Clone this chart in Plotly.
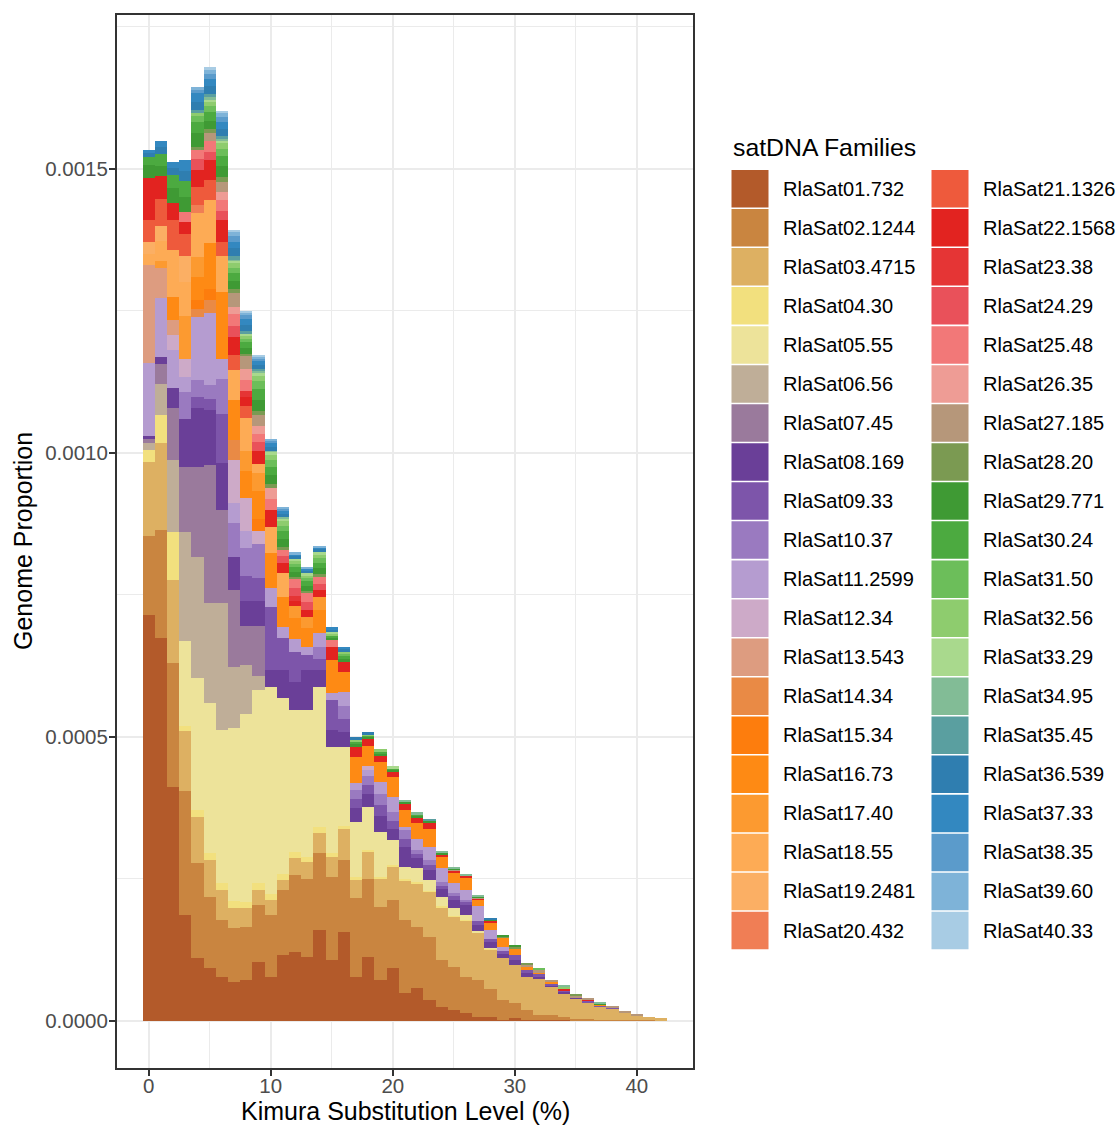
import plotly.graph_objects as go

# ---------------- data (values in units of 1e-5 genome proportion) ----------------
kimura = [0, 1, 2, 3, 4, 5, 6, 7, 8, 9, 10, 11, 12, 13, 14, 15, 16, 17, 18, 19, 20,
          21, 22, 23, 24, 25, 26, 27, 28, 29, 30, 31, 32, 33, 34, 35, 36, 37, 38, 39, 40, 41, 42]
UNIT = 1e-5

families = ["RlaSat01.732", "RlaSat02.1244", "RlaSat03.4715", "RlaSat04.30", "RlaSat05.55",
            "RlaSat06.56", "RlaSat07.45", "RlaSat08.169", "RlaSat09.33", "RlaSat10.37",
            "RlaSat11.2599", "RlaSat12.34", "RlaSat13.543", "RlaSat14.34", "RlaSat15.34",
            "RlaSat16.73", "RlaSat17.40", "RlaSat18.55", "RlaSat19.2481", "RlaSat20.432",
            "RlaSat21.1326", "RlaSat22.1568", "RlaSat23.38", "RlaSat24.29", "RlaSat25.48",
            "RlaSat26.35", "RlaSat27.185", "RlaSat28.20", "RlaSat29.771", "RlaSat30.24",
            "RlaSat31.50", "RlaSat32.56", "RlaSat33.29", "RlaSat34.95", "RlaSat35.45",
            "RlaSat36.539", "RlaSat37.33", "RlaSat38.35", "RlaSat39.60", "RlaSat40.33"]

family_colors = ["#B35A2A", "#C98540", "#DDB062", "#F2E07E", "#EDE39A",
                 "#BFAE98", "#9A7A9C", "#6A3F98", "#7D55AA", "#9A7AC0",
                 "#B59CD0", "#CDAAC8", "#DD9C80", "#E98A45", "#FD7D0D",
                 "#FE8A14", "#FC9A30", "#FDAB55", "#FBAF64", "#F07E55",
                 "#EE5A3C", "#E22320", "#E53535", "#E9515A", "#F27878",
                 "#EE9C95", "#B6977A", "#7B9A52", "#3F9A34", "#4CAA40",
                 "#6CBE5A", "#8ECC6E", "#A9D98D", "#82BC96", "#5A9FA0",
                 "#2F7EB0", "#3388C0", "#5B9BCB", "#7EB3D8", "#A8CCE4"]

rlasat01 = [71.5, 67.4, 41.2, 18.7, 11.1, 9.3, 7.7, 6.9, 7.2, 10.4,
            7.7, 11.6, 12.1, 11.3, 16.0, 10.7, 15.7, 7.7, 11.3, 7.2,
            9.3, 4.9, 5.8, 3.7, 2.5, 1.9, 1.4, 0.7, 0.6, 0.2,
            0.5, 0.2, 0.2, 0.1, 0.1, 0.05, 0, 0, 0, 0,
            0, 0, 0]
rlasat02 = [13.9, 19.0, 21.8, 21.7, 16.7, 12.5, 10.0, 9.5, 9.3, 10.0,
            10.9, 11.4, 13.6, 13.6, 13.6, 14.6, 12.7, 13.9, 13.6, 12.9,
            12.0, 12.9, 10.7, 11.1, 8.3, 7.6, 6.3, 6.5, 5.0, 3.5,
            2.6, 1.8, 0.9, 0.9, 0.5, 0.3, 0.3, 0.2, 0.2, 0.1,
            0.1, 0.1, 0]
rlasat03 = [13.0, 15.3, 14.6, 10.6, 8.1, 6.5, 5.3, 3.5, 3.3, 2.6,
            2.6, 1.8, 3.0, 3.0, 3.5, 3.5, 5.3, 3.2, 4.8, 4.8,
            5.8, 7.0, 7.7, 7.9, 9.2, 8.8, 10.0, 8.3, 7.0, 7.4,
            6.7, 5.8, 6.2, 4.9, 4.2, 3.6, 3.0, 2.3, 2.0, 1.3,
            0.9, 0.6, 0.5]
rlasat04 = [2.1, 4.9, 8.5, 1.0, 1.2, 1.2, 1.2, 1.2, 1.2, 1.2,
            1.2, 1.0, 1.0, 1.0, 1.0, 0.8, 0.6, 0.5, 0.4, 0.4,
            0.3, 0.2, 0.2, 0.2, 0.2, 0.2, 0.1, 0.1, 0.1, 0,
            0, 0, 0, 0, 0, 0, 0, 0, 0, 0,
            0, 0, 0]
rlasat05 = [0, 0, 0, 14.8, 23.3, 26.4, 27.0, 30.5, 33.1, 34.0,
            36.3, 31.0, 25.1, 25.9, 24.7, 18.6, 14.0, 9.7, 7.5, 7.9,
            4.5, 2.1, 2.6, 1.9, 1.6, 1.4, 0.8, 0.2, 0.1, 0,
            0, 0, 0, 0, 0, 0, 0, 0, 0, 0,
            0, 0, 0]
rlasat06 = [1.2, 5.6, 12.7, 19.2, 21.3, 17.6, 22.4, 10.7, 8.5, 2.6,
            0, 0, 0, 0, 0, 0, 0, 0, 0, 0,
            0, 0, 0, 0, 0, 0, 0, 0, 0, 0,
            0, 0, 0, 0, 0, 0, 0, 0, 0, 0,
            0, 0, 0]
rlasat07 = [0.7, 3.5, 9.2, 11.6, 15.8, 24.3, 16.4, 13.6, 7.0, 8.8,
            0, 0, 0, 0, 0, 0, 0, 0, 0, 0,
            0, 0, 0, 0, 0, 0, 0, 0, 0, 0,
            0, 0, 0, 0, 0, 0, 0, 0, 0, 0,
            0, 0, 0]
rlasat08 = [0.5, 1.2, 3.5, 8.3, 10.4, 9.7, 8.3, 5.8, 4.4, 4.4,
            3.0, 4.9, 4.8, 7.0, 3.0, 3.0, 2.5, 2.5, 2.3, 2.8,
            1.8, 3.5, 1.6, 1.8, 1.4, 1.4, 1.8, 1.0, 1.0, 0.7,
            1.0, 0.6, 0.5, 0.4, 0.3, 0.2, 0, 0, 0, 0,
            0, 0, 0]
rlasat09 = [0, 0, 0, 0, 2.0, 2.0, 8.5, 0, 4.4, 4.0,
            11.1, 5.8, 5.3, 2.6, 2.0, 5.3, 2.3, 1.6, 1.6, 2.0,
            1.5, 1.5, 0.7, 0.9, 0.6, 0.6, 0.5, 0.8, 0.6, 0.5,
            0.8, 0.6, 0.4, 0.3, 0.2, 0, 0.3, 0.2, 0.2, 0,
            0, 0, 0]
rlasat10 = [0, 0, 0, 4.8, 2.9, 2.4, 6.2, 6.0, 4.9, 6.0,
            0, 0, 0, 0, 2.0, 0, 2.3, 1.6, 1.6, 1.9,
            1.5, 1.5, 0.7, 0.9, 0.6, 0.6, 0.4, 0, 0, 0,
            0, 0, 0, 0, 0, 0, 0, 0, 0, 0,
            0, 0, 0]
rlasat11 = [12.9, 10.4, 6.7, 2.6, 11.1, 12.7, 3.5, 3.5, 3.0, 0,
            3.5, 1.8, 2.3, 1.4, 2.5, 1.2, 2.5, 1.2, 1.0, 2.1,
            2.8, 0.5, 2.1, 2.3, 2.6, 1.8, 1.8, 2.6, 1.6, 0.7,
            0, 0, 0, 0, 0, 0, 0, 0, 0, 0,
            0, 0, 0]
rlasat12 = [0, 0, 2.6, 3.2, 0, 0, 0, 7.6, 5.8, 2.3,
            0, 0, 0, 0, 0, 0, 0, 0, 0.8, 0,
            0, 0, 0, 0, 0, 0, 0, 0, 0, 0,
            0, 0, 0, 0, 0, 0, 0, 0, 0, 0,
            0, 0, 0]
rlasat13 = [17.3, 5.3, 2.6, 0, 0, 0, 0, 0, 0, 0,
            0, 0, 0, 0, 0, 0, 0, 0, 0, 0,
            0, 0, 0, 0, 0, 0, 0, 0, 0, 0,
            0, 0, 0, 0, 0, 0, 0, 0, 0, 0,
            0, 0, 0]
rlasat14 = [0, 0, 0, 0, 1.5, 2.3, 0, 3.5, 0, 0,
            0, 0, 0, 0, 0, 0, 0, 0, 0, 0,
            0, 0, 0, 0, 0, 0, 0, 0, 0, 0,
            0, 0, 0, 0, 0, 0, 0, 0, 0, 0,
            0, 0, 0]
rlasat15 = [0, 0, 0, 0, 1.5, 2.0, 0, 0, 0, 2.0,
            0, 0, 0, 0, 0, 0, 0, 0, 0, 0,
            0, 0, 0, 0, 0, 0, 0, 0, 0, 0,
            0, 0, 0, 0, 0, 0, 0, 0, 0, 0,
            0, 0, 0]
rlasat16 = [0, 0, 4.0, 0, 4.0, 8.0, 11.8, 7.0, 4.8, 5.0,
            6.0, 5.3, 3.8, 3.3, 4.0, 5.8, 3.5, 4.6, 3.5, 3.5,
            3.5, 3.0, 2.8, 3.0, 1.8, 1.8, 2.1, 1.1, 1.3, 1.6,
            1.2, 0.5, 0.4, 0.2, 0, 0, 0, 0.1, 0, 0,
            0, 0, 0]
rlasat17 = [0, 1.2, 0, 7.6, 3.6, 0, 0, 0, 3.5, 3.2,
            0, 0, 2.0, 2.0, 2.3, 0, 0, 0, 0, 0,
            0, 0, 0, 0, 0, 0, 0, 0, 0, 0,
            0, 0, 0, 0, 0, 0, 0, 0, 0, 0,
            0, 0, 0]
rlasat18 = [2.0, 3.5, 8.3, 6.0, 7.7, 7.6, 6.3, 5.3, 5.8, 1.6,
            4.6, 4.2, 0, 0, 0, 0, 0, 0, 0, 0,
            0, 0, 0, 0, 0, 0, 0, 0, 0, 0,
            0, 0, 0, 0, 0, 0, 0, 0, 0, 0,
            0, 0, 0]
rlasat19 = [2.0, 2.6, 0, 4.6, 0, 0, 0, 0, 0, 0,
            0, 0, 0, 0, 0, 0, 0, 0, 0, 0,
            0, 0, 0, 0, 0, 0, 0, 0, 0, 0,
            0, 0, 0, 0, 0, 0, 0, 0, 0, 0,
            0, 0, 0]
rlasat20 = [0, 0, 0, 0, 1.5, 0, 0, 0, 0, 0,
            0, 0, 0, 0, 0, 0, 0, 0, 0, 0,
            0, 0, 0, 0, 0, 0, 0, 0, 0, 0,
            0, 0, 0, 0, 0, 0, 0, 0, 0, 0,
            0, 0, 0]
rlasat21 = [3.9, 4.9, 5.3, 3.9, 3.1, 3.5, 2.5, 2.6, 2.1, 0,
            0, 0, 0, 0, 0, 0, 0, 0, 0, 0,
            0, 0, 0, 0, 0, 0, 0, 0, 0, 0,
            0, 0, 0, 0, 0, 0, 0, 0, 0, 0,
            0, 0, 0]
rlasat22 = [7.4, 3.9, 3.0, 2.1, 3.0, 3.5, 4.0, 3.2, 1.5, 2.3,
            3.0, 1.8, 1.0, 1.2, 1.2, 2.3, 1.8, 1.8, 1.2, 1.1,
            0.9, 1.2, 0.9, 1.2, 0.5, 0.3, 0.35, 0.2, 0.3, 0,
            0, 0, 0, 0, 0.3, 0, 0.2, 0, 0, 0,
            0, 0, 0]
rlasat23 = [0, 0, 0, 0, 0, 0, 0, 0, 1.1, 0,
            0, 0, 0.8, 0, 0, 0, 0, 0, 0, 0,
            0, 0, 0, 0, 0, 0, 0, 0, 0, 0,
            0, 0, 0, 0, 0, 0, 0, 0, 0, 0,
            0, 0, 0]
rlasat24 = [0, 0, 0, 0, 2.0, 1.5, 1.5, 2.0, 0, 1.5,
            0, 1.2, 1.5, 1.5, 1.2, 0, 0, 0, 0, 0,
            0, 0, 0, 0, 0, 0, 0, 0, 0, 0,
            0, 0, 0, 0, 0, 0, 0, 0, 0, 0,
            0, 0, 0]
rlasat25 = [0, 0, 0, 1.8, 1.5, 2.0, 2.0, 2.0, 2.0, 1.5,
            2.0, 1.1, 1.5, 1.5, 1.1, 1.2, 0, 0, 0, 0,
            0, 0, 0, 0, 0, 0, 0, 0, 0, 0,
            0, 0, 0, 0, 0, 0, 0, 0, 0, 0,
            0, 0, 0]
rlasat26 = [0, 0, 0, 0, 0, 0, 1.3, 1.3, 1.9, 1.4,
            2.0, 0, 0, 0, 0, 0, 0, 0, 0, 0,
            0, 0, 0, 0, 0, 0, 0, 0, 0, 0,
            0, 0, 0, 0, 0, 0, 0, 0, 0, 0,
            0, 0, 0]
rlasat27 = [0, 0, 0, 0, 0, 1.4, 1.8, 2.5, 2.3, 1.8,
            0, 0, 0, 0, 0, 0, 0, 0, 0, 0,
            0, 0, 0, 0, 0, 0.2, 0, 0.15, 0, 0,
            0, 0.4, 0.3, 0.4, 0, 0.3, 0.2, 0, 0.2, 0.2,
            0.1, 0, 0]
rlasat28 = [0, 0, 0, 0, 0.5, 0.6, 0.8, 0.6, 0.4, 0.8,
            0.6, 0.6, 0.4, 0.4, 0.5, 0, 0, 0, 0, 0,
            0, 0, 0, 0, 0, 0, 0, 0, 0, 0.2,
            0.3, 0.3, 0, 0, 0, 0.15, 0, 0, 0, 0,
            0, 0, 0]
rlasat29 = [2.3, 1.8, 2.6, 2.5, 2.5, 1.5, 2.0, 1.5, 1.0, 2.0,
            1.6, 1.4, 0.9, 0.9, 1.1, 0.5, 0.6, 0.5, 0.4, 0.4,
            0.3, 0.3, 0.3, 0.3, 0.3, 0.3, 0, 0.2, 0.3, 0.3,
            0.3, 0, 0, 0, 0, 0, 0, 0.2, 0, 0,
            0, 0, 0]
rlasat30 = [1.4, 2.1, 2.3, 2.8, 2.0, 1.5, 1.8, 1.3, 1.0, 1.8,
            1.5, 1.3, 0.8, 0.8, 1.0, 0.4, 0.5, 0.4, 0.3, 0.4,
            0.3, 0, 0.3, 0, 0, 0, 0, 0, 0, 0,
            0, 0, 0, 0, 0, 0, 0, 0, 0, 0,
            0, 0, 0]
rlasat31 = [0, 0, 0, 0, 1.0, 1.0, 1.2, 1.0, 0.6, 1.4,
            1.2, 1.0, 0.6, 0.6, 0.8, 0, 0.4, 0, 0, 0,
            0, 0, 0, 0, 0, 0, 0, 0, 0, 0,
            0, 0, 0.4, 0, 0, 0, 0, 0, 0, 0,
            0, 0, 0]
rlasat32 = [0, 0, 0, 0, 0.5, 0.8, 1.0, 0.8, 0.5, 1.0,
            0.9, 0.8, 0.5, 0.5, 0.6, 0.3, 0.3, 0.3, 0.2, 0.4,
            0, 0, 0, 0, 0, 0, 0, 0, 0, 0,
            0, 0, 0, 0, 0.4, 0, 0, 0, 0, 0,
            0, 0, 0]
rlasat33 = [0, 0, 0, 0, 0, 0.5, 0.5, 0.4, 0.4, 0.6,
            0.5, 0.5, 0.3, 0.3, 0.4, 0.2, 0, 0, 0, 0,
            0.3, 0, 0, 0, 0, 0, 0, 0, 0, 0,
            0, 0, 0, 0, 0, 0, 0, 0, 0, 0,
            0, 0, 0]
rlasat34 = [0, 0, 0, 0, 0, 0.3, 0.3, 0.2, 0, 0.3,
            0.2, 0.2, 0, 0, 0, 0, 0, 0, 0, 0,
            0, 0.2, 0.3, 0, 0.2, 0.2, 0.2, 0.15, 0, 0,
            0, 0, 0, 0, 0.3, 0, 0, 0.2, 0, 0,
            0, 0, 0]
rlasat35 = [0, 0, 0, 0, 0.5, 0.6, 0.5, 0.6, 0.4, 0.3,
            0, 0, 0, 0, 0, 0, 0, 0, 0, 0,
            0, 0, 0, 0.2, 0, 0, 0, 0, 0, 0,
            0, 0, 0, 0, 0, 0, 0, 0, 0, 0,
            0, 0, 0]
rlasat36 = [0.7, 1.2, 1.2, 1.8, 1.5, 1.4, 1.3, 1.4, 1.1, 0.7,
            0.7, 0.6, 0.5, 0.5, 0.5, 0.5, 0.5, 0.4, 0.3, 0,
            0, 0, 0, 0, 0, 0, 0, 0, 0.2, 0,
            0, 0, 0, 0, 0, 0, 0, 0, 0, 0,
            0, 0, 0]
rlasat37 = [0.5, 1.2, 1.1, 1.9, 1.5, 1.2, 1.2, 1.2, 1.0, 0.6,
            0.6, 0.5, 0.4, 0.3, 0.4, 0.4, 0.4, 0, 0, 0,
            0, 0, 0, 0, 0, 0, 0, 0, 0, 0,
            0, 0, 0, 0, 0, 0, 0, 0, 0, 0,
            0, 0, 0]
rlasat38 = [0, 0, 0, 0, 0.6, 1.0, 0.9, 1.0, 0.7, 0.5,
            0.4, 0.4, 0, 0, 0, 0, 0, 0, 0, 0,
            0, 0, 0, 0, 0, 0, 0, 0, 0, 0,
            0, 0, 0, 0, 0, 0, 0, 0, 0, 0,
            0, 0, 0]
rlasat39 = [0, 0, 0, 0, 0.5, 0.7, 0.6, 0.7, 0.5, 0.3,
            0.4, 0.3, 0.3, 0.3, 0.3, 0, 0, 0, 0, 0,
            0, 0, 0, 0, 0, 0, 0, 0, 0, 0,
            0, 0, 0, 0, 0, 0, 0, 0, 0, 0,
            0, 0, 0]
rlasat40 = [0, 0, 0, 0, 0, 0.4, 0.4, 0.4, 0.3, 0.2,
            0, 0, 0, 0, 0, 0, 0, 0, 0, 0,
            0, 0, 0, 0, 0, 0, 0, 0, 0, 0,
            0, 0, 0, 0, 0, 0, 0, 0, 0, 0,
            0, 0, 0]

series = [rlasat01, rlasat02, rlasat03, rlasat04, rlasat05, rlasat06, rlasat07, rlasat08,
          rlasat09, rlasat10, rlasat11, rlasat12, rlasat13, rlasat14, rlasat15, rlasat16,
          rlasat17, rlasat18, rlasat19, rlasat20, rlasat21, rlasat22, rlasat23, rlasat24,
          rlasat25, rlasat26, rlasat27, rlasat28, rlasat29, rlasat30, rlasat31, rlasat32,
          rlasat33, rlasat34, rlasat35, rlasat36, rlasat37, rlasat38, rlasat39, rlasat40]

y_tickvals = [0, 0.0005, 0.0010, 0.0015]
y_ticktext = ["0.0000", "0.0005", "0.0010", "0.0015"]
x_tickvals = [0, 10, 20, 30, 40]
x_ticktext = ["0", "10", "20", "30", "40"]

for s in series:
    assert len(s) == len(kimura)

# ---------------- figure ----------------
W, H = 1118, 1126
L, R, T, B = 117, 693, 15, 1068          # panel edges in page pixels
FONT = "Liberation Sans, Arial, sans-serif"

fig = go.Figure()
for name, col, vals in zip(families, family_colors, series):
    fig.add_trace(go.Bar(
        x=kimura, y=[v * UNIT for v in vals], name=name, width=1.0,
        marker=dict(color=col, line=dict(width=0)), showlegend=False,
    ))

fig.update_layout(
    width=W, height=H, barmode="stack", bargap=0,
    margin=dict(l=L, r=W - R, t=T, b=H - B, autoexpand=False),
    plot_bgcolor="white", paper_bgcolor="white",
    font=dict(family=FONT, color="#000000"),
)

axis_common = dict(
    showline=True, linecolor="#333333", linewidth=2, mirror=True,
    ticks="outside", ticklen=6, tickwidth=1.5, tickcolor="#333333",
    tickfont=dict(family=FONT, size=20.5, color="#4D4D4D"),
    showgrid=True, gridcolor="#EBEBEB", gridwidth=2, zeroline=False,
)
fig.update_xaxes(range=[-2.6, 44.6], tickmode="array", tickvals=x_tickvals, ticktext=x_ticktext,
                 ticklabelstandoff=-8,
                 minor=dict(tickmode="array", tickvals=[5, 15, 25, 35], showgrid=True,
                            gridcolor="#EBEBEB", gridwidth=1, ticks=""),
                 **axis_common)
fig.update_yaxes(range=[-0.0000830, 0.0017711], tickmode="array", tickvals=y_tickvals,
                 ticktext=y_ticktext, ticklabelstandoff=-3,
                 minor=dict(tickmode="array", tickvals=[0.00025, 0.00075, 0.00125, 0.00175],
                            showgrid=True, gridcolor="#EBEBEB", gridwidth=1, ticks=""),
                 **axis_common)


def px_x(px):
    return (px - L) / (R - L)


def px_y(py):
    return (B - py) / (B - T)


annotations = [
    dict(text="Kimura Substitution Level (%)", x=px_x(405), y=px_y(1111), xref="paper",
         yref="paper", xanchor="center", yanchor="middle", showarrow=False,
         font=dict(family=FONT, size=25, color="#000000")),
    dict(text="Genome Proportion", x=px_x(23), y=px_y(541), xref="paper", yref="paper",
         xanchor="center", yanchor="middle", showarrow=False, textangle=-90,
         font=dict(family=FONT, size=25, color="#000000")),
    dict(text="satDNA Families", x=px_x(731), y=px_y(147), xref="paper", yref="paper",
         xanchor="left", yanchor="middle", showarrow=False,
         font=dict(family=FONT, size=24.8, color="#000000")),
]
shapes = []
PITCH = 39.04
for i, (name, col) in enumerate(zip(families, family_colors)):
    colno, row = divmod(i, 20)
    kx0 = 731.5 + 200 * colno
    top = 170 + PITCH * row
    shapes.append(dict(type="rect", xref="paper", yref="paper",
                       x0=px_x(kx0), x1=px_x(kx0 + 37), y0=px_y(top), y1=px_y(top + 37.5),
                       fillcolor=col, line=dict(width=0), layer="above"))
    annotations.append(dict(text=name, x=px_x(kx0 + 49.5), y=px_y(top + 18.75),
                            xref="paper", yref="paper", xanchor="left", yanchor="middle",
                            showarrow=False, font=dict(family=FONT, size=20, color="#000000")))

fig.update_layout(annotations=annotations, shapes=shapes)
# remove the browser's default 8 px page margin so the figure fills the window exactly
fig.write_html("out.html",
               config={"displayModeBar": False},
               post_script="document.body.style.margin='0px';"
                           "document.documentElement.style.overflow='hidden';")
